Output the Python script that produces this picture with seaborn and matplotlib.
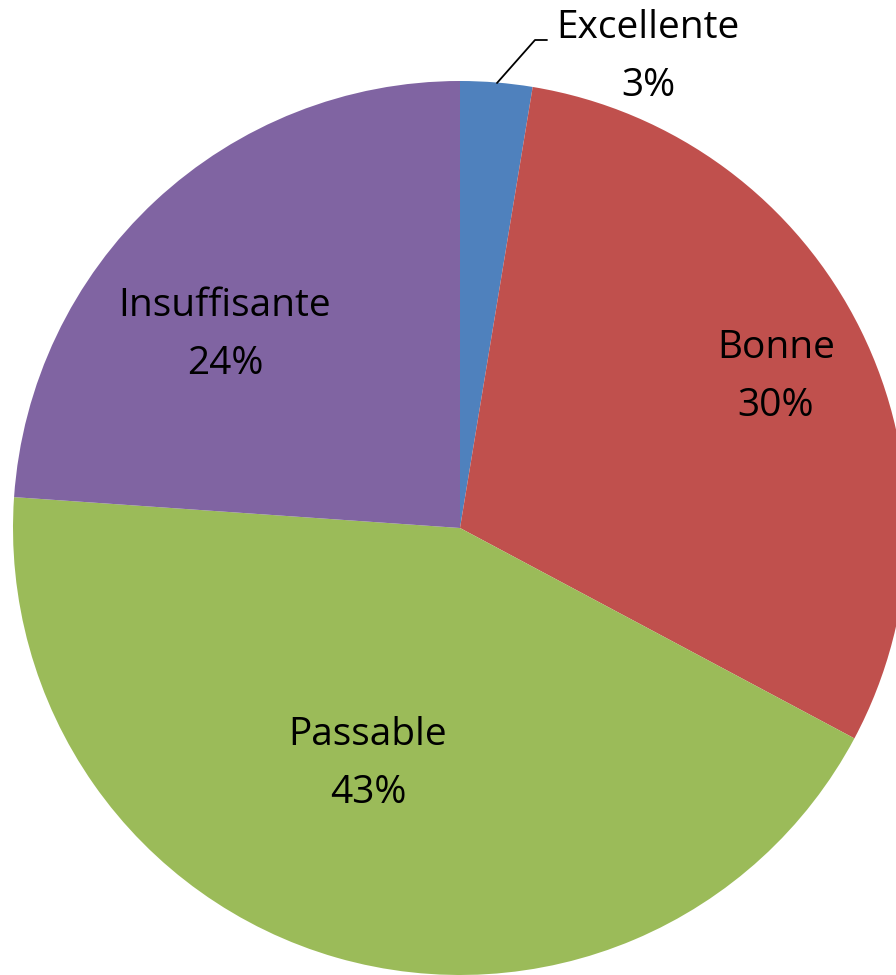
import matplotlib
matplotlib.use("Agg")
import matplotlib.pyplot as plt
import seaborn as sns

categories = ["Excellente", "Bonne", "Passable", "Insuffisante"]
values = [2.6, 30.2, 43.3, 23.9]
percent_labels = ["3%", "30%", "43%", "24%"]
colors = ["#4F81BD", "#C0504D", "#9BBB59", "#8064A2"]

sns.set_theme(style="white")
plt.rcParams["font.family"] = ["Open Sans", "DejaVu Sans"]

W, H = 896, 975
fig = plt.figure(figsize=(W / 100, H / 100), dpi=100)
ax = fig.add_axes([0, 0, 1, 1])

cx, cy, r = 460, H - 528, 447
wedges, _ = ax.pie(values, colors=colors, startangle=90, counterclock=False,
                   center=(cx, cy), radius=r, wedgeprops=dict(linewidth=0))

# label positions in pixels (x, y from top), as in the original layout
label_pos = [(648, 57), (776, 377), (368, 764), (225, 335)]
for cat, pct, (px, py) in zip(categories, percent_labels, label_pos):
    ax.text(px, H - py, f"{cat}\n{pct}", ha="center", va="center",
            fontsize=28, linespacing=1.67, color="black")

# leader line for the small slice
ax.plot([497, 535, 547], [H - 83, H - 40, H - 40], color="black", lw=1.3)

ax.set_xlim(0, W)
ax.set_ylim(0, H)
ax.set_aspect("equal")
ax.axis("off")

fig.savefig("out.png", dpi=100)
plt.close(fig)
